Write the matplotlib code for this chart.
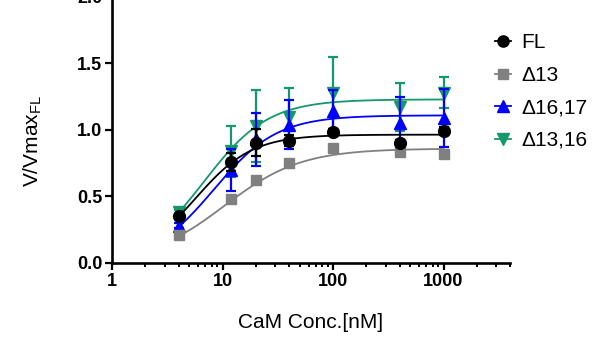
import numpy as np
import matplotlib
matplotlib.use('Agg')
import matplotlib.pyplot as plt
from matplotlib.lines import Line2D

plt.rcParams['font.family'] = ['Liberation Sans', 'DejaVu Sans']

# CaM concentration (nM)
conc = [4, 12, 20, 40, 100, 400, 1000]

labels = ['FL', '\u039413', '\u039416,17', '\u039413,16']

fl_mean = [0.35, 0.76, 0.905, 0.92, 0.987, 0.905, 0.993]
fl_err = [0.02, 0.065, 0.10, 0.04, 0.02, 0.02, 0.03]

d13_mean = [0.21, 0.479, 0.624, 0.75, 0.862, 0.837, 0.823]
d13_err = [0.015, 0.02, 0.02, 0.02, 0.02, 0.02, 0.02]

d1617_mean = [0.28, 0.70, 0.93, 1.04, 1.145, 1.05, 1.09]
d1617_err = [0.02, 0.155, 0.20, 0.185, 0.155, 0.195, 0.215]

d1316_mean = [0.38, 0.84, 1.03, 1.10, 1.276, 1.17, 1.28]
d1316_err = [0.02, 0.19, 0.27, 0.215, 0.27, 0.18, 0.115]

# Hill fit parameters (Vmax, K, n)
fl_fit = (0.965, 5.65, 1.68)
d13_fit = (0.86, 10.4, 1.25)
d1617_fit = (1.11, 8.4, 1.52)
d1316_fit = (1.23, 6.85, 1.5)


def hill(x, vmax, k, n):
    return vmax / (1 + (k / x) ** n)


fig = plt.figure(figsize=(6.05, 3.5), dpi=100)
ax = fig.add_axes([0.1851, 0.2486, 0.658, 0.76])

series = [
    (d1316_mean, d1316_err, d1316_fit, '#13996a', 'v', 8.5),
    (d1617_mean, d1617_err, d1617_fit, '#0000ff', '^', 8.5),
    (d13_mean, d13_err, d13_fit, '#808080', 's', 7.5),
    (fl_mean, fl_err, fl_fit, '#000000', 'o', 8.5),
]

xs = np.logspace(np.log10(conc[0]), np.log10(conc[-1]), 200)
for i, (m, e, fit, col, mk, ms) in enumerate(series):
    ax.plot(xs, hill(xs, *fit), color=col, lw=1.3, zorder=2 + i)
    ax.errorbar(conc, m, yerr=e, fmt='none', ecolor=col, elinewidth=1.6,
                capsize=3.8, capthick=1.6, zorder=2 + i)
    ax.plot(conc, m, ls='none', marker=mk, ms=ms, color=col,
            markeredgecolor=col, zorder=3 + i)

ax.set_xscale('log')
ax.set_xlim(1, 4000)
ax.set_ylim(0, 2.0)
ax.set_yticks([0.0, 0.5, 1.0, 1.5, 2.0])
ax.set_yticklabels(['0.0', '0.5', '1.0', '1.5', '2.0'])
ax.set_xticks([1, 10, 100, 1000])
ax.set_xticklabels(['1', '10', '100', '1000'])
ax.xaxis.set_minor_locator(matplotlib.ticker.LogLocator(base=10, subs=np.arange(2, 10), numticks=20))
ax.xaxis.set_minor_formatter(matplotlib.ticker.NullFormatter())

for s in ['top', 'right']:
    ax.spines[s].set_visible(False)
for s in ['left', 'bottom']:
    ax.spines[s].set_linewidth(1.9)

ax.tick_params(axis='both', which='major', length=5, width=1.6, labelsize=13, pad=2)
ax.tick_params(axis='x', which='minor', length=3, width=1.4)
for t in ax.get_xticklabels() + ax.get_yticklabels():
    t.set_fontweight('bold')

ax.set_xlabel('CaM Conc.[nM]', fontsize=15, labelpad=17)
ax.set_ylabel(r'V/Vmax$_{\mathregular{FL}}$', fontsize=15)
ax.yaxis.set_label_coords(-0.17, 0.46)

leg_handles = []
for m, e, fit, col, mk, ms in series[::-1]:
    leg_handles.append(Line2D([0], [0], color=col, lw=1.3, marker=mk, ms=ms * 0.95,
                              markeredgecolor=col))
leg = ax.legend(leg_handles, labels, loc='upper left', bbox_to_anchor=(0.94, 0.895),
                frameon=False, fontsize=15, handlelength=0.8, handletextpad=0.5,
                labelspacing=0.65, borderaxespad=0)

fig.savefig('out.png', dpi=100)
